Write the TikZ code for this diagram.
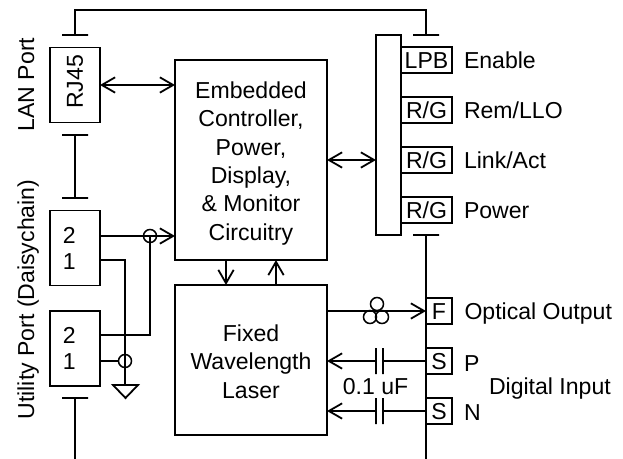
\documentclass[tikz,border=0pt]{standalone}
\usepackage{fontspec}
\setmainfont{Liberation Sans}
\usetikzlibrary{arrows.meta}
\def\u{0.75pt}
\tikzset{
  x=0.75pt, y=-0.75pt,
  tip/.tip={Straight Barb[length=10pt,width=11.5pt,line width=1.35pt]},
  wire/.style={line width=1.35pt},
  arrowwire/.style={line width=1.2pt, arrows={-tip}},
  biarrow/.style={line width=1.2pt, arrows={tip-tip}},
  blk/.style={draw, line width=1.4pt, inner sep=0pt, outer sep=0pt, align=center,
    font=\fontsize{17.3}{21.3}\selectfont},
  ind/.style={blk, text height=17*\u, text depth=0pt},
  lbl/.style={inner sep=0pt, outer sep=0pt, anchor=base west, font=\fontsize{17.3}{21.3}\selectfont},
  lblc/.style={lbl, anchor=base},
  tbar/.style={draw, line width=1.35pt, minimum width=26*\u, minimum height=0pt, inner sep=0pt, outer sep=0pt},
  capbar/.style={draw, line width=1.35pt, minimum width=0pt, minimum height=26*\u, inner sep=0pt, outer sep=0pt},
  ring/.style={draw, circle, line width=1.15pt, minimum size=13*\u, inner sep=0pt, outer sep=0pt},
}
\begin{document}
\begin{tikzpicture}
\useasboundingbox (0,0) rectangle (623,459);
% main blocks
\node[blk, minimum width=50*\u, minimum height=75*\u] (rj) at (75,85) {\rotatebox{90}{\kern4.5pt RJ45}};
\node[blk, minimum width=50*\u, minimum height=75*\u] (up1) at (75,248) {2\rule{8.5pt}{0pt}\\[-1.8pt]1\rule{8.5pt}{0pt}};
\node[blk, minimum width=50*\u, minimum height=75*\u] (up2) at (75,348.5) {2\rule{8.5pt}{0pt}\\[-1.8pt]1\rule{8.5pt}{0pt}};
\node[blk, minimum width=152*\u, minimum height=200*\u] (ctl) at (251,160) {\rule{0pt}{17.4pt}Embedded\\Controller,\\Power,\\Display,\\\& Monitor\\Circuitry};
\node[blk, minimum width=152*\u, minimum height=150*\u] (las) at (251,360) {\rule{0pt}{14.6pt}Fixed\\Wavelength\\Laser};
\node[blk, minimum width=25*\u, minimum height=200*\u] (bus) at (388.5,135) {};
% indicator boxes
\node[ind, minimum width=51*\u, minimum height=26*\u] (lpb) at (426.5,60) {LPB};
\node[ind, minimum width=51*\u, minimum height=26*\u] (rg1) at (426.5,110) {R/G};
\node[ind, minimum width=51*\u, minimum height=26*\u] (rg2) at (426.5,160) {R/G};
\node[ind, minimum width=51*\u, minimum height=26*\u] (rg3) at (426.5,210) {R/G};
\node[ind, minimum width=26*\u, minimum height=26*\u] (fb) at (439,311) {F};
\node[ind, minimum width=26*\u, minimum height=26*\u] (sp) at (439,361) {S};
\node[ind, minimum width=26*\u, minimum height=26*\u] (sn) at (439,411) {S};
% T bars
\node[tbar] (t1) at (75,35) {};
\node[tbar] (t2) at (75,135) {};
\node[tbar] (t3) at (75,198) {};
\node[tbar] (t4) at (75,398) {};
\node[tbar] (t5) at (426,35) {};
\node[tbar] (t6) at (426,235) {};
\coordinate (top) at (250,10);
\coordinate (bl) at (75,459);
\coordinate (br) at (426,459);
\draw[wire] (t1.center) |- (top) -| (t5.center);
\draw[wire] (t2.center) -- (t3.center);
\draw[wire] (t4.center) -- (bl);
\draw[wire] (t6.center) -- (br);
% arrows
\draw[biarrow] (rj.east) -- (rj.east -| ctl.west);
\draw[biarrow] (ctl.east) -- (ctl.east -| bus.west);
\coordinate (d1) at (226,260);
\coordinate (d2) at (276,260);
\draw[arrowwire] (d1) -- (d1 |- las.north);
\draw[arrowwire] (d2 |- las.north) -- (d2);
% utility wiring
\coordinate (w21) at (100,236);
\coordinate (w11) at (100,260);
\coordinate (w22) at (100,335);
\coordinate (w12) at (100,361);
\node[ring] (r1) at (150,236) {};
\node[ring] (r2) at (125,361) {};
\coordinate (gnd) at (125,385);
\coordinate (gl) at (113,385);
\coordinate (gr) at (138,385);
\coordinate (gb) at (125.5,398);
\draw[arrowwire] (w21) -- (w21 -| ctl.west);
\draw[wire] (w11) -| (gnd);
\draw[wire] (w22) -| (r1.center);
\draw[wire] (w12) -- (r2.west);
\draw[wire] (gl) -- (gr) -- (gb) -- cycle;
% optical output
\coordinate (opt) at (327,311);
\draw[arrowwire] (opt) -- (fb.west);
\node[ring] (c1) at (377,304) {};
\node[ring] (c2) at (370,317) {};
\node[ring] (c3) at (382,317) {};
% capacitors
\node[capbar] (cp1) at (376,361) {};
\node[capbar] (cp2) at (383,361) {};
\node[capbar] (cn1) at (376,411) {};
\node[capbar] (cn2) at (383,411) {};
\draw[arrowwire] (cp1.center) -- (cp1.center -| las.east);
\draw[wire] (cp2.center) -- (sp.west);
\draw[arrowwire] (cn1.center) -- (cn1.center -| las.east);
\draw[wire] (cn2.center) -- (sn.west);
% labels
\node[lbl, rotate=90, anchor=base] (lanl) at (34,84.5) {LAN Port};
\node[lbl, rotate=90, anchor=base] (utl) at (34,299.5) {Utility Port (Daisychain)};
\node[lbl] (l1) at (464,68.5) {Enable};
\node[lbl] (l2) at (464,118.5) {Rem/LLO};
\node[lbl] (l3) at (464,169) {Link/Act};
\node[lbl] (l4) at (464,218.5) {Power};
\node[lbl] (l5) at (464.5,319) {Optical Output};
\node[lbl] (l6) at (464,371) {P};
\node[lbl] (l7) at (464,420) {N};
\node[lbl] (l8) at (489,394) {Digital Input};
\node[lblc] (l9) at (375.5,394) {0.1 uF};
\end{tikzpicture}
\end{document}
